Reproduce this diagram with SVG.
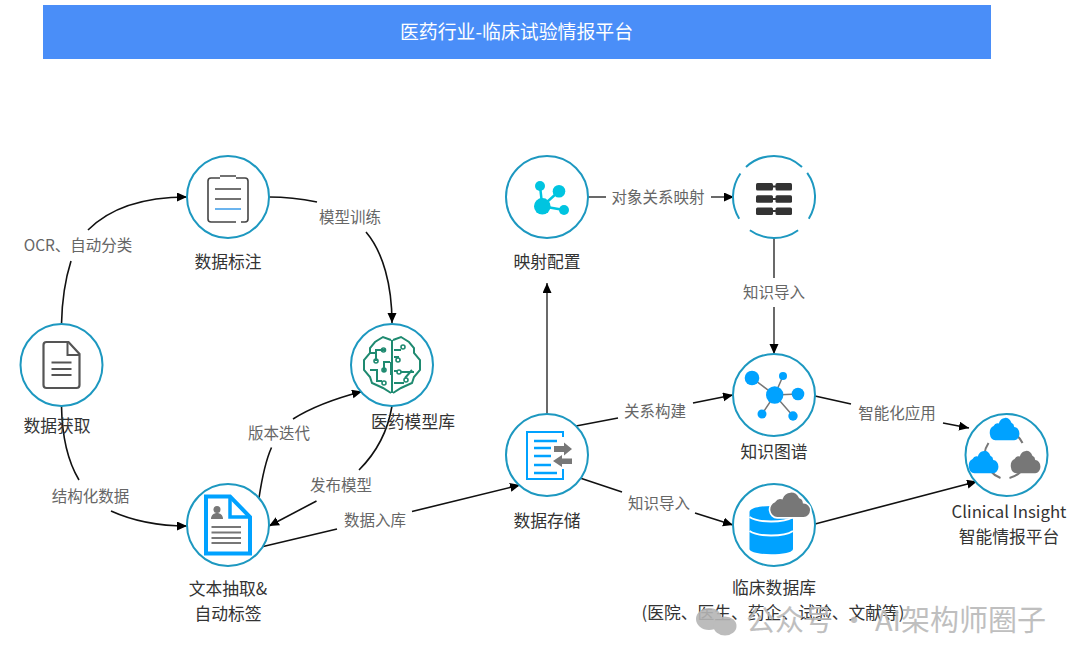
<svg xmlns="http://www.w3.org/2000/svg" width="1080" height="663" viewBox="0 0 1080 663">
<style>
text{font-family:"Noto Sans CJK SC","Noto Sans",sans-serif;text-anchor:middle}
.ring{fill:#fff;stroke:#1d98c0;stroke-width:2}
.nl{font-size:16.800px;fill:#333}
.el{font-size:15.500px;fill:#666}
.c{fill:none;stroke:#111;stroke-width:1.6}
.br{fill:none;stroke:#1f8a70;stroke-width:2}
.blue{fill:#00a2ff}
.gr{fill:#777}
</style>
<defs>
<marker id="a" markerUnits="userSpaceOnUse" markerWidth="12" markerHeight="10" refX="10" refY="4.5" orient="auto"><path d="M0 0L10 4.5L0 9z" fill="#000"/></marker>
<path id="cloud" d="M-8 7a5 5 0 0 1-1.500-9.700a4 4 0 0 1 4.500-1.800a6 6 0 0 1 11-.5a3.500 3.500 0 0 1 2.500 3a4.500 4.500 0 0 1 0 9z"/>
</defs>
<g id="title"><rect x="43" y="5" width="948" height="54" fill="#4a8ef8"/><text x="516.500" y="38.500" font-size="18.900" fill="#fff">医药行业-临床试验情报平台</text></g>
<g id="connectors">
<path class="c" d="M61.500 324C62 300 65 280 71 261"/>
<path class="c" marker-end="url(#a)" d="M88 230C110 208 145 197 187 197"/>
<path class="c" d="M269 197C285 197 302 199 317 202"/>
<path class="c" marker-end="url(#a)" d="M366 232C383 252 392 285 392 323"/>
<path class="c" d="M259 498C262 478 265 462 271.500 447.500"/>
<path class="c" marker-end="url(#a)" d="M293 419C312 407 337 398 362 391.500"/>
<path class="c" d="M392 406C388 430 376 453 359 470"/>
<path class="c" marker-end="url(#a)" d="M316.500 501L269 526"/>
<path class="c" d="M61.500 406C62 435 67 460 79 480"/>
<path class="c" marker-end="url(#a)" d="M111 511C133 521 158 526 187 526"/>
<path class="c" d="M261 547L337 529"/>
<path class="c" marker-end="url(#a)" d="M412 511.500L520 485"/>
<path class="c" style="stroke:#444" marker-end="url(#a)" d="M547 414V283"/>
<path class="c" style="stroke:#444" d="M588 197H606"/>
<path class="c" style="stroke:#444" marker-end="url(#a)" d="M711 197H734"/>
<path class="c" style="stroke:#444" d="M774 237V278"/>
<path class="c" style="stroke:#444" marker-end="url(#a)" d="M774 307V354"/>
<path class="c" d="M576 426L618 418"/>
<path class="c" marker-end="url(#a)" d="M693 403L733 395"/>
<path class="c" d="M580 478L622 492"/>
<path class="c" marker-end="url(#a)" d="M695 513L733 525"/>
<path class="c" d="M815 396L851 404"/>
<path class="c" marker-end="url(#a)" d="M943 423L969 428"/>
<path class="c" marker-end="url(#a)" d="M815 524L977 481.500"/>
</g>
<g id="edge-labels">
<text class="el" x="78" y="251">OCR、自动分类</text>
<text class="el" x="350" y="223">模型训练</text>
<text class="el" x="279" y="439">版本迭代</text>
<text class="el" x="341" y="491">发布模型</text>
<text class="el" x="90.500" y="502">结构化数据</text>
<text class="el" x="375" y="526">数据入库</text>
<text class="el" x="658" y="203">对象关系映射</text>
<text class="el" x="774" y="298">知识导入</text>
<text class="el" x="655" y="417">关系构建</text>
<text class="el" x="659" y="509">知识导入</text>
<text class="el" x="897" y="419">智能化应用</text>
</g>
<g id="n-acquire" transform="translate(61.500,365)"><circle class="ring" r="41"/>
<path d="M-15-23H7L18-11V20a3 3 0 0 1-3 3H-15a3 3 0 0 1-3-3V-20a3 3 0 0 1 3-3z" style="fill:none;stroke:#555;stroke-width:2.200"/><path d="M6-23V-10H18" style="fill:none;stroke:#555;stroke-width:2"/>
<path d="M-10-2.500H10M-10 4H10M-10 10H10" style="stroke:#555;stroke-width:2.200"/></g>
<text class="nl" x="57" y="432">数据获取</text>
<g id="n-label" transform="translate(228,197)"><circle class="ring" r="41"/>
<path d="M-8-19H-17a3 3 0 0 0-3 3V22a3 3 0 0 0 3 3H8M13 25H17a3 3 0 0 0 3-3V-16a3 3 0 0 0-3-3H8M-8-21H8" style="fill:none;stroke:#444;stroke-width:1.600"/>
<path d="M-13-8H13M-13 2H13" style="stroke:#444;stroke-width:1.500"/><path d="M-13 12H13" style="stroke:#3a9be8;stroke-width:1.500"/></g>
<text class="nl" x="228" y="268">数据标注</text>
<g id="n-models" transform="translate(392,365)"><circle class="ring" r="41"/>
<path class="br" d="M-1-25L-9-28L-17-23L-22-17V-12L-28-5V5L-22 12L-20 18L-9 23L-1 28M1-25L9-28L17-23L22-17V-12L28-5V5L22 12L20 18L9 23L1 28M0-25V28"/>
<path class="br" d="M-22-12H-16V-4M-6.500-15H-16V-12M-8 7V-3H-2M-22 5H-15V16H-10M-1-3V10M2-15H9M2-8H6V-7M2 6H5M9 7H22M2 18H12M13 13L20 5"/>
<g class="br" style="stroke-width:1.600"><circle cx="-8.500" cy="-15" r="2"/><circle cx="-16" cy="-4" r="2"/><circle cx="-8" cy="5" r="2"/><circle cx="-8" cy="18" r="2"/><circle cx="11" cy="-18" r="2"/><circle cx="6" cy="-5" r="2"/><circle cx="7" cy="7" r="2"/><circle cx="14" cy="15" r="2"/></g></g>
<text class="nl" x="413" y="428">医药模型库</text>
<g id="n-extract" transform="translate(228,525)"><circle class="ring" r="41"/>
<path d="M-22-28.500H2L22-8V28.500H-22z" style="fill:#fff;stroke:#00a2ff;stroke-width:4"/><path d="M2-28.500V-8H22" style="fill:none;stroke:#00a2ff;stroke-width:3.500"/>
<circle class="gr" cx="-11" cy="-15.500" r="3.500"/><path class="gr" d="M-17-6c0-4 3-6 6-6s6 2 6 6z"/>
<path d="M-16.500 2H13M-16.500 7.500H13M-16.500 13H13M-16.500 18H13" style="stroke:#777;stroke-width:2.200"/></g>
<text class="nl" x="228" y="595">文本抽取&amp;</text><text class="nl" x="228" y="620">自动标签</text>
<g id="n-mapping" transform="translate(547,197)"><circle class="ring" r="41"/>
<path d="M-7-11L-4.700 9.300L12-5.700M-4.700 9.300L17 13" style="stroke:#00c4e0;stroke-width:2.500;fill:none"/>
<g fill="#00c4e0"><circle cx="-7" cy="-11" r="5"/><circle cx="12" cy="-5.700" r="6.300"/><circle cx="-4.700" cy="9.300" r="8.300"/><circle cx="17" cy="13" r="5"/></g></g>
<text class="nl" x="547" y="268">映射配置</text>
<g id="n-objects" transform="translate(774,197)">
<path d="M-28-30A41 41 0 0 1 28-30M33.200-24.100A41 41 0 0 1 34.800 21.700M24.100 33.200A41 41 0 0 1-24.100 33.200M-34.800 21.700A41 41 0 0 1-33.600-23.500" style="fill:none;stroke:#1d98c0;stroke-width:2"/>
<g fill="#333"><rect x="-18" y="-14" width="17" height="7.500" rx="1.500"/><rect x="1.500" y="-14" width="16.500" height="7.500" rx="1.500"/><rect x="-18" y="-1.700" width="17" height="7.500" rx="1.500"/><rect x="1.500" y="-1.700" width="16.500" height="7.500" rx="1.500"/><rect x="-18" y="10.500" width="17" height="7.500" rx="1.500"/><rect x="1.500" y="10.500" width="16.500" height="7.500" rx="1.500"/><rect x="-2" y="-11.500" width="4" height="2"/><rect x="-2" y="1" width="4" height="2"/><rect x="-2" y="13" width="4" height="2"/></g></g>
<g id="n-storage" transform="translate(547,455)"><circle class="ring" r="41"/>
<path d="M16-18V-23H-20V24H16V14" style="fill:none;stroke:#00a2ff;stroke-width:2"/>
<path d="M-13-14H10M-13-7H4M-13 1H4M-13 10H4M-13 18H10" style="stroke:#00a2ff;stroke-width:2.500"/>
<path class="gr" d="M7-9H17V-12.500L25-6L17 .5V-3H7zM25 3.500H15V0L6 6L15 12V9H25z"/></g>
<text class="nl" x="547" y="527">数据存储</text>
<g id="n-graph" transform="translate(774,395)"><circle class="ring" r="41"/>
<path d="M-22-17L.7 0L9-19M.7 0L24-1M.7 0L-12 19M.7 0L19 21" style="stroke:#777;stroke-width:1.500;fill:none"/>
<g class="blue"><circle cx=".7" cy="0" r="8.700"/><circle cx="-22" cy="-17" r="7.300"/><circle cx="9" cy="-19" r="4"/><circle cx="24" cy="-1" r="6.300"/><circle cx="-12" cy="19" r="4.500"/><circle cx="19" cy="21" r="4.700"/></g></g>
<text class="nl" x="774" y="458">知识图谱</text>
<g id="n-clinical" transform="translate(774,525)"><circle class="ring" r="41"/>
<path class="blue" d="M-24.500-13C-24.500-21 19-21 19-13V24C19 31-24.500 31-24.500 24z"/>
<path d="M-24.500-8C-16-2 10-2 19-8M-24.500 6C-16 12 10 12 19 6" style="fill:none;stroke:#fff;stroke-width:2"/>
<use href="#cloud" transform="translate(16,-19) scale(1.600,1.700)" fill="#777" stroke="#fff" stroke-width="1"/></g>
<text class="nl" x="774" y="594">临床数据库</text><text class="nl" x="773" y="619" style="font-size:16.800px">(医院、医生、药企、试验、文献等)</text>
<g id="n-insight" transform="translate(1006.500,455)"><circle class="ring" r="41"/>
<path d="M10-20A24 24 0 0 1 16-12M-18-12A24 24 0 0 0-22-1M-16 16A24 24 0 0 0-6 23M3 23A24 24 0 0 0 14 17M19-2V1" style="fill:none;stroke:#777;stroke-width:2"/>
<use class="blue" href="#cloud" transform="translate(-2,-25) scale(1.150,1.450)"/>
<use class="blue" href="#cloud" transform="translate(-23,8) scale(1.150,1.450)"/>
<use class="gr" href="#cloud" transform="translate(19,8) scale(1.150,1.450)"/></g>
<text class="nl" x="1009" y="518">Clinical Insight</text><text class="nl" x="1009" y="543">智能情报平台</text>
<g id="watermark" opacity=".9">
<g fill="#b5b5b5"><ellipse cx="709" cy="619" rx="13" ry="11"/><ellipse cx="725" cy="626" rx="11.500" ry="9.500"/></g>
<text x="746" y="631" font-size="29" fill="#b9b9b9" style="text-anchor:start">公众号 · AI架构师圈子</text></g>
</svg>
